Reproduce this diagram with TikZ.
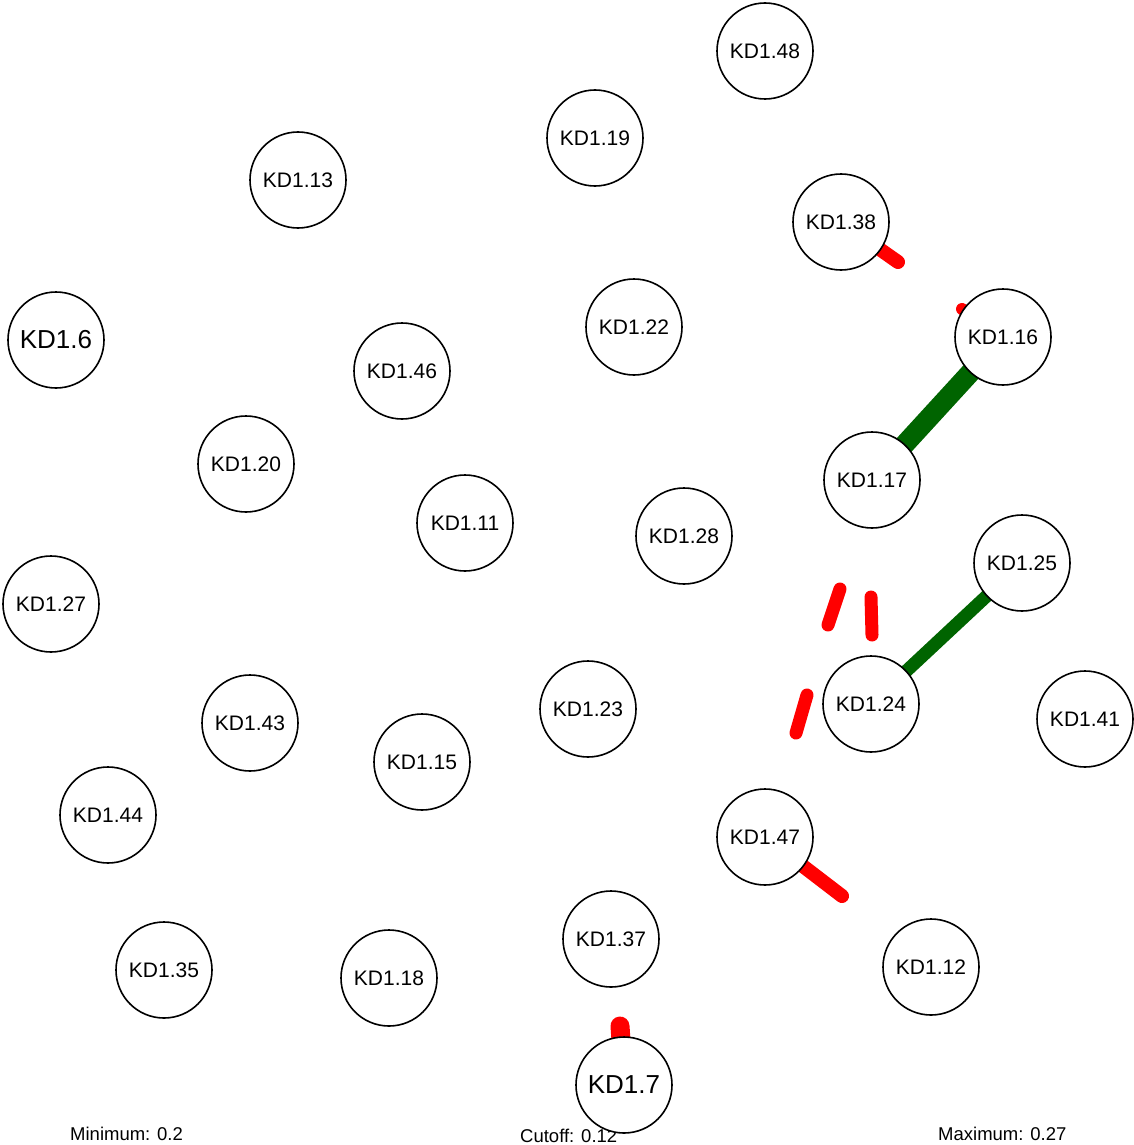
\documentclass[tikz,border=0pt]{standalone}
\usepackage{fontspec}
\setmainfont{Liberation Sans}
\usetikzlibrary{backgrounds}
\begin{document}
\begin{tikzpicture}[x=1pt,y=-1pt,
  vert/.style={circle,draw=black,line width=1.6pt,fill=white,minimum size=96pt,inner sep=0pt,font=\fontsize{21}{24}\selectfont},
  bigvert/.style={vert,font=\fontsize{26}{30}\selectfont},
  posedge/.style={draw={rgb,255:red,0;green,100;blue,0},line cap=butt},
  negstub/.style={draw=red,line width=14pt,line cap=round},
  legend/.style={font=\fontsize{18.5}{21}\selectfont,inner sep=0pt}]
\useasboundingbox (0,0) rectangle (1133,1145);
% coordinates for partial (negative) edges
\coordinate (a1) at (878,250); \coordinate (a2) at (898,262);
\coordinate (b1) at (962,309); \coordinate (b2) at (978,320);
\coordinate (c1) at (871,597); \coordinate (c2) at (872,635);
\coordinate (d1) at (840,589); \coordinate (d2) at (828,625);
\coordinate (e1) at (807,695); \coordinate (e2) at (796,733);
\coordinate (f1) at (805,869); \coordinate (f2) at (842,896);
\coordinate (g1) at (620,1026); \coordinate (g2) at (622,1060);
% nodes
\node[vert] (n48) at (765,51) {KD1.48};
\node[vert] (n19) at (595,138) {KD1.19};
\node[vert] (n13) at (298,180) {KD1.13};
\node[vert] (n38) at (841,222) {KD1.38};
\node[bigvert] (n6) at (56,340) {KD1.6};
\node[vert] (n22) at (634,327) {KD1.22};
\node[vert] (n16) at (1003,337) {KD1.16};
\node[vert] (n46) at (402,371) {KD1.46};
\node[vert] (n20) at (246,464) {KD1.20};
\node[vert] (n17) at (872,480) {KD1.17};
\node[vert] (n11) at (465,523) {KD1.11};
\node[vert] (n28) at (684,536) {KD1.28};
\node[vert] (n25) at (1022,563) {KD1.25};
\node[vert] (n27) at (51,604) {KD1.27};
\node[vert] (n43) at (250,723) {KD1.43};
\node[vert] (n23) at (588,709) {KD1.23};
\node[vert] (n24) at (871,704) {KD1.24};
\node[vert] (n41) at (1085,719) {KD1.41};
\node[vert] (n15) at (422,762) {KD1.15};
\node[vert] (n44) at (108,815) {KD1.44};
\node[vert] (n47) at (765,837) {KD1.47};
\node[vert] (n37) at (611,939) {KD1.37};
\node[vert] (n12) at (931,967) {KD1.12};
\node[vert] (n35) at (164,970) {KD1.35};
\node[vert] (n18) at (389,978) {KD1.18};
% legend text
\node[legend,anchor=base west] (lmin) at (70,1140) {Minimum: 0.2};
\node[legend,anchor=base west] (lcut) at (520,1142) {Cutoff: 0.12};
\node[legend,anchor=base west] (lmax) at (938,1140) {Maximum: 0.27};
\node[bigvert] (n7) at (624,1085) {KD1.7};
% edges behind nodes
\begin{scope}[on background layer]
\draw[posedge,line width=20pt] (n16.center) -- (n17.center);
\draw[posedge,line width=13pt] (n25.center) -- (n24.center);
\draw[negstub] (n38.center) -- (a2);
\draw[negstub,line width=12pt] (b1) -- (n16.center);
\draw[negstub,line width=13pt] (c1) -- (c2);
\draw[negstub,line width=13pt] (d1) -- (d2);
\draw[negstub,line width=13pt] (e1) -- (e2);
\draw[negstub] (n47.center) -- (f2);
\draw[negstub,line width=19pt] (g1) -- (n7.center);
\end{scope}
\end{tikzpicture}
\end{document}
